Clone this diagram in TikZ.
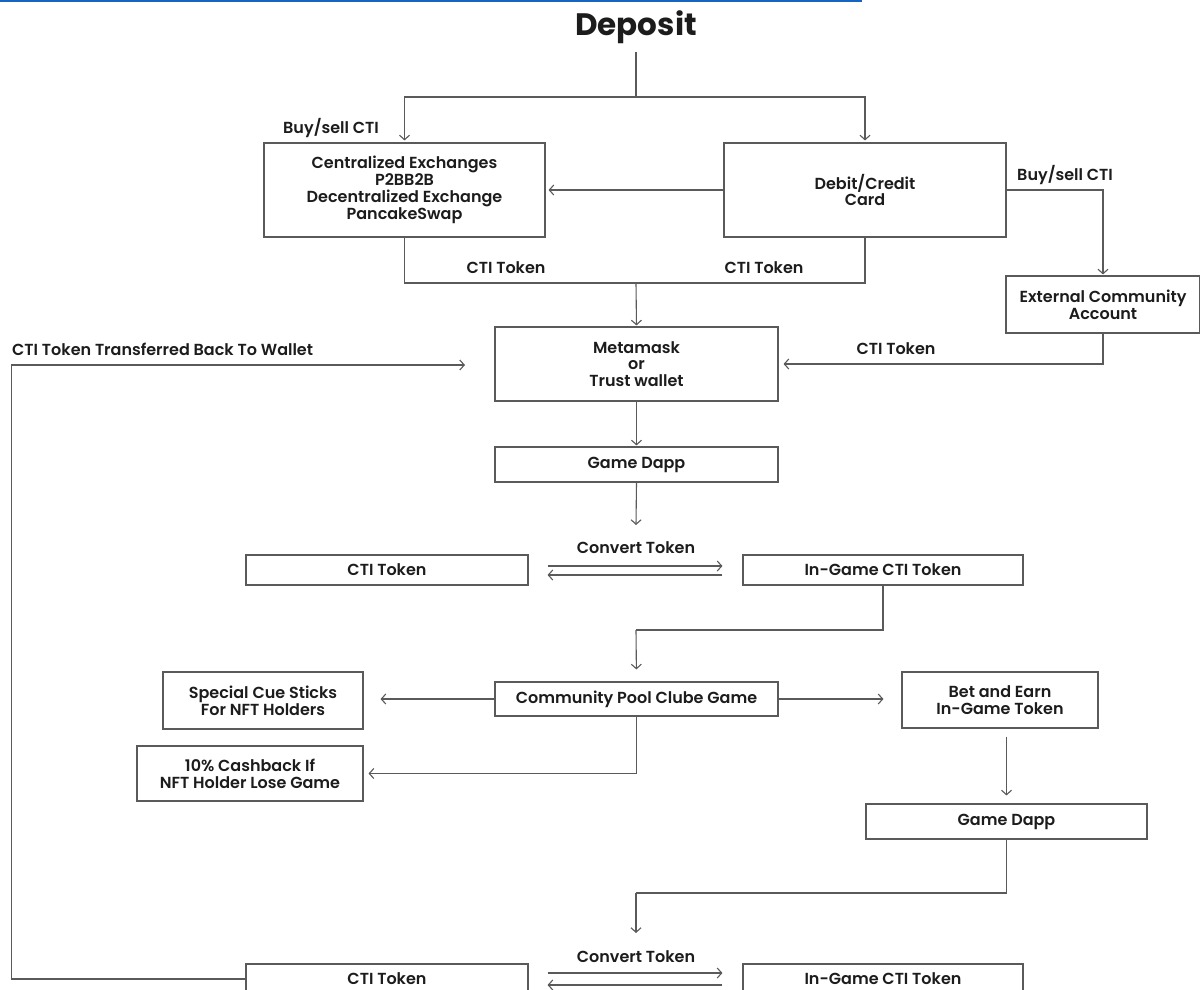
\documentclass[tikz,border=0pt]{standalone}
\usepackage{fontspec}
\setmainfont{Poppins}[UprightFont=* SemiBold, BoldFont=* Bold]
\usetikzlibrary{arrows.meta}

\definecolor{linegray}{HTML}{5A5A5A}
\definecolor{inkgray}{HTML}{1C1C1C}
\definecolor{linkblue}{HTML}{1565C0}
\newcommand{\boxfont}{\fontsize{16}{16.8}\selectfont}

\tikzset{
  box/.style={draw=linegray, line width=1.1pt, align=center, inner sep=0pt, text=inkgray, font=\boxfont},
  link/.style={draw=linegray, line width=1.1pt},
  arr/.style={link, -{Straight Barb[length=4.5pt,width=10pt]}},
  lbl/.style={inner sep=0pt, text=inkgray, font=\boxfont}
}

\begin{document}
\begin{tikzpicture}[x=1pt,y=-1pt]
\useasboundingbox (0,0) rectangle (1200,990);
\fill[white] (0,0) rectangle (1200,990);
\draw[linkblue, line width=3pt] (0,0.5) -- (862,0.5);
\node[lbl, font=\fontsize{31}{34}\bfseries] (dep) at (636,27) {Deposit};
\node[box, minimum width=281, minimum height=94] (cex) at (404.5,190) {Centralized Exchanges\\P2BB2B\\Decentralized Exchange\\PancakeSwap};
\node[box, minimum width=282, minimum height=94] (card) at (865,190) {Debit/Credit\\Card};
\node[box, minimum width=194, minimum height=57] (ext) at (1103,304.5) {External Community\\Account};
\node[box, minimum width=283, minimum height=74] (wallet) at (636.5,364) {Metamask\\or\\Trust wallet};
\node[box, minimum width=283, minimum height=35] (dapp) at (636.5,464.5) {Game Dapp};
\node[box, minimum width=282, minimum height=30] (cti) at (387,570) {CTI Token};
\node[box, minimum width=280, minimum height=30] (igt) at (883,570) {In-Game CTI Token};
\node[box, minimum width=283, minimum height=34] (pool) at (636.5,699) {Community Pool Clube Game};
\node[box, minimum width=200, minimum height=57] (cue) at (263,700.5) {Special Cue Sticks\\For NFT Holders};
\node[box, minimum width=226, minimum height=55] (cash) at (250,773.5) {10\% Cashback If\\NFT Holder Lose Game};
\node[box, minimum width=196, minimum height=56] (bet) at (1000,700) {Bet and Earn\\In-Game Token};
\node[box, minimum width=281, minimum height=35] (dapp2) at (1006.5,821.5) {Game Dapp};
\node[box, minimum width=282, minimum height=30] (cti2) at (387,979) {CTI Token};
\node[box, minimum width=280, minimum height=30] (igt2) at (883,979) {In-Game CTI Token};
\coordinate (split) at (636,97);
\coordinate (join) at (636,283);
\coordinate (conv) at (636,525);
\coordinate (bend) at (636,630);
\coordinate (bend2) at (636,893);
\coordinate (conv2) at (636,933);
\coordinate (back) at (465,365);
% top part
\draw[link] (dep) ++(0,25) -- (split);
\draw[arr, shorten >=2pt] (split) -| (cex.north);
\draw[arr, shorten >=2pt] (split) -| (card.north);
\node[lbl] (buy1) at (331,128) {Buy/sell CTI};
\draw[arr, shorten >=3pt] (card.west) -- (cex.east);
\draw[arr, shorten >=1pt] (card.east) -| (ext.north);
\node[lbl] (buy2) at (1065,175) {Buy/sell CTI};
\draw[link] (cex.south) |- (join) -| (card.south);
\node[lbl] (tok1) at (506,268) {CTI Token};
\node[lbl] (tok2) at (764,268) {CTI Token};
\draw[arr, shorten >=1pt] (join) -- (wallet.north);
\draw[arr, shorten >=5pt] (ext.south) |- (wallet.east);
\node[lbl] (tok3) at (896,349) {CTI Token};
\draw[arr, shorten >=1pt] (wallet) -- (dapp);
\draw[arr] (dapp.south) -- (conv);
% token swap
\node[lbl] (cv1) at (636,548) {Convert Token};
\draw[arr, shorten <=19pt, shorten >=20pt] ([yshift=4pt]cti.east) -- ([yshift=4pt]igt.west);
\draw[arr, shorten <=20pt, shorten >=19pt] ([yshift=-5pt]igt.west) -- ([yshift=-5pt]cti.east);
\draw[link] (igt.south) |- (bend);
\draw[arr, shorten >=12pt] (bend) -- (pool.north);
% game
\draw[arr, shorten >=17pt] (pool.west) -- (pool.west -| cue.east);
\draw[arr, shorten >=18pt] (pool.east) -- (pool.east -| bet.west);
\draw[arr, shorten >=5pt] (pool.south) |- (cash.east);
\draw[arr, shorten <=8pt, shorten >=8pt] (bet.south -| dapp2.north) -- (dapp2.north);
\draw[link] (dapp2.south) |- (bend2);
\draw[arr] (bend2) -- (conv2);
\node[lbl] (cv2) at (636,957) {Convert Token};
\draw[arr, shorten <=19pt, shorten >=20pt] ([yshift=6pt]cti2.east) -- ([yshift=6pt]igt2.west);
\draw[arr, shorten <=20pt, shorten >=19pt] ([yshift=-6pt]igt2.west) -- ([yshift=-6pt]cti2.east);
% back to wallet
\draw[arr] (cti2.west) -- ++(-234,0) |- (back);
\node[lbl, anchor=west] (backlbl) at (12,349) {CTI Token Transferred Back To Wallet};
%\draw[link] (back) -- (wallet.west);
\end{tikzpicture}
\end{document}
